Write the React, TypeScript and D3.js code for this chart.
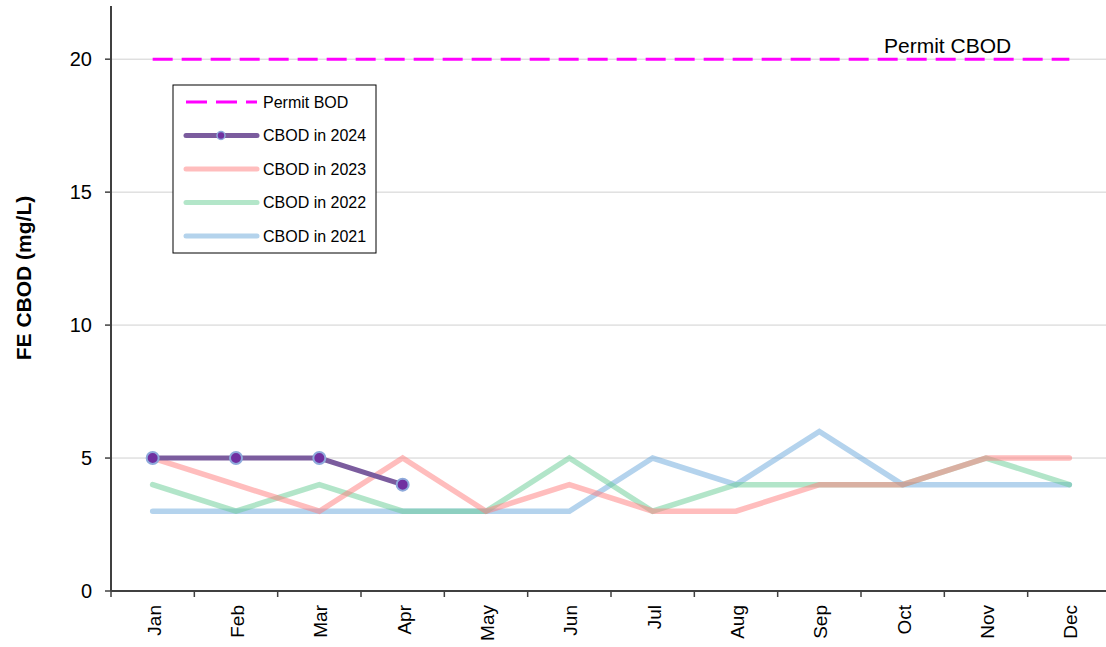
import React from "react";
import * as d3 from "d3";

const months = ["Jan", "Feb", "Mar", "Apr", "May", "Jun", "Jul", "Aug", "Sep", "Oct", "Nov", "Dec"];
const cbod2024 = [5, 5, 5, 4];
const cbod2023 = [5, 4, 3, 5, 3, 4, 3, 3, 4, 4, 5, 5];
const cbod2022 = [4, 3, 4, 3, 3, 5, 3, 4, 4, 4, 5, 4];
const cbod2021 = [3, 3, 3, 3, 3, 3, 5, 4, 6, 4, 4, 4];
const permit = 20;
const yTicks = [0, 5, 10, 15, 20];

const W = 1106, H = 647;
const L = 111, R = 1111, T = 6, B = 591;

export default function App() {
  const x = d3.scaleBand<string>().domain(months).range([L, R]).padding(0);
  const y = d3.scaleLinear().domain([0, 22]).range([B, T]);
  const cx = (m: string) => (x(m) as number) + x.bandwidth() / 2;
  const line = d3.line<number>().x((_, i) => cx(months[i])).y((d) => y(d));

  const series = [
    { name: "CBOD in 2021", data: cbod2021, color: "#6aa8dc", op: 0.5 },
    { name: "CBOD in 2022", data: cbod2022, color: "#66cc93", op: 0.5 },
    { name: "CBOD in 2023", data: cbod2023, color: "#ff7b7b", op: 0.5 },
  ];
  const font = "Arial, 'Liberation Sans', sans-serif";
  const legendItems = [
    { label: "Permit BOD", kind: "permit" },
    { label: "CBOD in 2024", kind: "2024" },
    { label: "CBOD in 2023", color: "#ffbdbd" },
    { label: "CBOD in 2022", color: "#b3e6c9" },
    { label: "CBOD in 2021", color: "#b4d3ec" },
  ];
  const lgX = 173, lgY = 85, lgW = 203, lgH = 168;

  return (
    <svg width={W} height={H} style={{ position: "absolute", left: 0, top: 0, overflow: "hidden" }} fontFamily={font}>
      <rect width={W} height={H} fill="#fff" />
      {yTicks.filter((t) => t > 0).map((t) => (
        <line key={t} x1={L} x2={R} y1={y(t)} y2={y(t)} stroke="#d0d0d0" strokeWidth={1} />
      ))}
      {/* permit line */}
      <line x1={cx("Jan")} x2={cx("Dec")} y1={y(permit)} y2={y(permit)} stroke="#ff00ff" strokeWidth={3} strokeDasharray="20,9" />
      <text x={884} y={53} fontSize={21} fill="#000">Permit CBOD</text>
      {series.map((s) => (
        <path key={s.name} d={line(s.data) || ""} fill="none" stroke={s.color} strokeOpacity={s.op} strokeWidth={5.5} strokeLinejoin="miter" strokeLinecap="round" />
      ))}
      <path d={line(cbod2024) || ""} fill="none" stroke="#7b5c9e" strokeWidth={5} />
      {cbod2024.map((v, i) => (
        <circle key={i} cx={cx(months[i])} cy={y(v)} r={6} fill="#7030a0" stroke="#8eaadb" strokeWidth={2} />
      ))}
      {/* axes */}
      <line x1={L} x2={L} y1={T} y2={B} stroke="#404040" strokeWidth={2} />
      <line x1={L} x2={R + 10} y1={B} y2={B} stroke="#404040" strokeWidth={2} />
      {yTicks.map((t) => (
        <g key={t}>
          <line x1={L - 6} x2={L} y1={y(t)} y2={y(t)} stroke="#404040" strokeWidth={1.5} />
          <text x={92} y={y(t)} dy="0.36em" textAnchor="end" fontSize={20}>{t}</text>
        </g>
      ))}
      {d3.range(months.length + 1).map((i) => {
        const xx = L + i * x.bandwidth();
        return <line key={i} x1={xx} x2={xx} y1={B} y2={B + 6} stroke="#404040" strokeWidth={1.5} />;
      })}
      {months.map((m) => (
        <text key={m} transform={`translate(${cx(m) + 8},${605}) rotate(-90)`} textAnchor="end" fontSize={19}>{m}</text>
      ))}
      <text transform={`translate(31,278) rotate(-90)`} textAnchor="middle" fontSize={21} fontWeight="bold">FE CBOD (mg/L)</text>
      {/* legend */}
      <rect x={lgX} y={lgY} width={lgW} height={lgH} fill="#fff" stroke="#000" strokeWidth={1} />
      {legendItems.map((it, i) => {
        const yy = lgY + 17 + i * 33.5;
        return (
          <g key={it.label}>
            {it.kind === "permit" ? (
              <line x1={186} x2={257} y1={yy} y2={yy} stroke="#ff00ff" strokeWidth={3} strokeDasharray="21,9" />
            ) : it.kind === "2024" ? (
              <g>
                <line x1={186} x2={257} y1={yy} y2={yy} stroke="#7b5c9e" strokeWidth={5} strokeLinecap="round" />
                <circle cx={221} cy={yy} r={4} fill="#7030a0" stroke="#8eaadb" strokeWidth={1.5} />
              </g>
            ) : (
              <line x1={186} x2={257} y1={yy} y2={yy} stroke={it.color} strokeWidth={5} strokeLinecap="round" />
            )}
            <text x={263} y={yy} dy="0.36em" fontSize={16}>{it.label}</text>
          </g>
        );
      })}
    </svg>
  );
}
